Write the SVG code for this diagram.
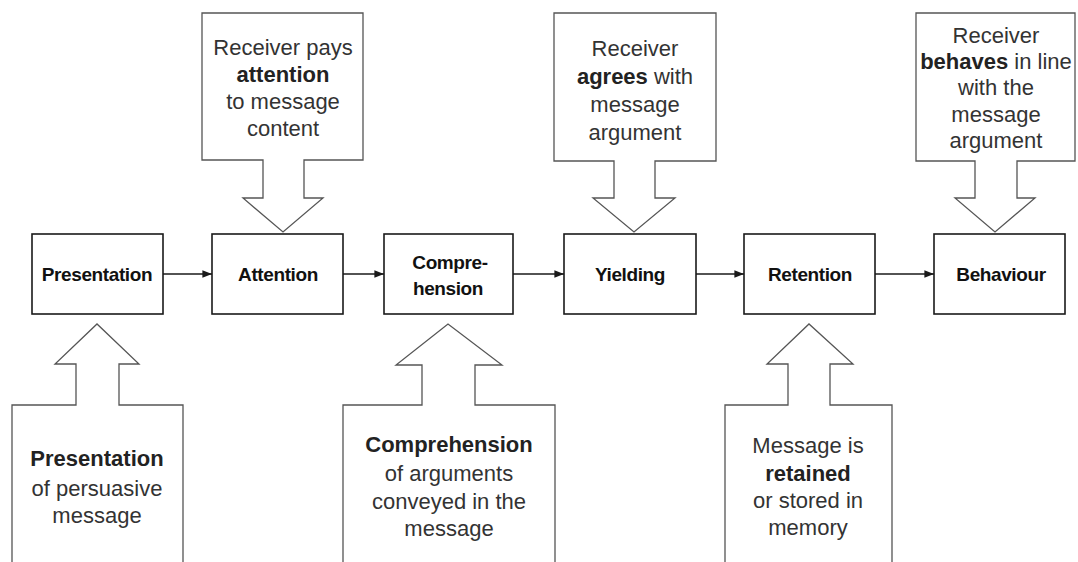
<svg xmlns="http://www.w3.org/2000/svg" width="1078" height="562" viewBox="0 0 1078 562">
  <style>
    .stage { fill: #fff; stroke: #1a1a1a; stroke-width: 1.6; }
    .stage-label { font-family: "Liberation Sans", Arial, sans-serif; font-weight: bold; font-size: 19px; fill: #111; text-anchor: middle; letter-spacing: -0.4px; }
    .callout { fill: #fff; stroke: #555; stroke-width: 1.3; stroke-linejoin: miter; }
    .note { font-family: "Liberation Sans", Arial, sans-serif; font-size: 22px; fill: #333; text-anchor: middle; }
    .note tspan.b { font-weight: bold; fill: #222; }
    .link { stroke: #1a1a1a; stroke-width: 1.6; fill: none; marker-end: url(#head); }
  </style>
  <defs>
    <marker id="head" viewBox="0 0 10 10" refX="10" refY="5" markerWidth="6" markerHeight="6" markerUnits="strokeWidth" orient="auto">
      <path d="M0,1 L10,5 L0,9 Z" fill="#1a1a1a"/>
    </marker>
  </defs>
  <rect width="1078" height="562" fill="#fff"/>

  <!-- flow between stages -->
  <g id="connectors">
    <line class="link" x1="163" y1="274" x2="212" y2="274"/>
    <line class="link" x1="343" y1="274" x2="384" y2="274"/>
    <line class="link" x1="513" y1="274" x2="564" y2="274"/>
    <line class="link" x1="696" y1="274" x2="744" y2="274"/>
    <line class="link" x1="875" y1="274" x2="934" y2="274"/>
  </g>

  <!-- stage boxes -->
  <g id="presentation">
    <rect class="stage" x="32" y="234" width="131" height="80"/>
    <text class="stage-label" x="97" y="281">Presentation</text>
  </g>
  <g id="attention">
    <rect class="stage" x="212" y="234" width="131" height="80"/>
    <text class="stage-label" x="278" y="281">Attention</text>
  </g>
  <g id="comprehension">
    <rect class="stage" x="384" y="234" width="129" height="80"/>
    <text class="stage-label" x="450" y="269">Compre-</text>
    <text class="stage-label" x="448" y="295">hension</text>
  </g>
  <g id="yielding">
    <rect class="stage" x="564" y="234" width="132" height="80"/>
    <text class="stage-label" x="630" y="281">Yielding</text>
  </g>
  <g id="retention">
    <rect class="stage" x="744" y="234" width="131" height="80"/>
    <text class="stage-label" x="810" y="281">Retention</text>
  </g>
  <g id="behaviour">
    <rect class="stage" x="934" y="234" width="131" height="80"/>
    <text class="stage-label" x="1001" y="281">Behaviour</text>
  </g>

  <!-- callouts above the stages -->
  <g id="note-attention">
    <path class="callout" d="M202,13 H363 V160 H304 V198 H323 L283,232 L243,198 H263 V160 H202 Z"/>
    <text class="note" x="283" y="55">Receiver pays</text>
    <text class="note" x="283" y="82"><tspan class="b">attention</tspan></text>
    <text class="note" x="283" y="109">to message</text>
    <text class="note" x="283" y="136">content</text>
  </g>
  <g id="note-yielding">
    <path class="callout" d="M554,13 H716 V161 H655 V198 H675 L634,232 L593,198 H614 V161 H554 Z"/>
    <text class="note" x="635" y="56">Receiver</text>
    <text class="note" x="635" y="84"><tspan class="b">agrees</tspan> with</text>
    <text class="note" x="635" y="112">message</text>
    <text class="note" x="635" y="140">argument</text>
  </g>
  <g id="note-behaviour">
    <path class="callout" d="M916,13 H1075 V161 H1017 V198 H1035 L995,232 L955,198 H975 V161 H916 Z"/>
    <text class="note" x="996" y="43">Receiver</text>
    <text class="note" x="996" y="69"><tspan class="b">behaves</tspan> in line</text>
    <text class="note" x="996" y="95">with the</text>
    <text class="note" x="996" y="122">message</text>
    <text class="note" x="996" y="148">argument</text>
  </g>

  <!-- callouts below the stages -->
  <g id="note-presentation">
    <path class="callout" d="M12,575 V405 H76 V364 H55 L97,324 L139,364 H119 V405 H183 V575"/>
    <text class="note" x="97" y="466"><tspan class="b">Presentation</tspan></text>
    <text class="note" x="97" y="496">of persuasive</text>
    <text class="note" x="97" y="523">message</text>
  </g>
  <g id="note-comprehension">
    <path class="callout" d="M343,575 V405 H422 V365 H396 L448,324 L502,365 H475 V405 H555 V575"/>
    <text class="note" x="449" y="452"><tspan class="b">Comprehension</tspan></text>
    <text class="note" x="449" y="481">of arguments</text>
    <text class="note" x="449" y="509">conveyed in the</text>
    <text class="note" x="449" y="536">message</text>
  </g>
  <g id="note-retention">
    <path class="callout" d="M725,575 V405 H788 V364 H767 L809,324 L853,364 H830 V405 H892 V575"/>
    <text class="note" x="808" y="453">Message is</text>
    <text class="note" x="808" y="481"><tspan class="b">retained</tspan></text>
    <text class="note" x="808" y="508">or stored in</text>
    <text class="note" x="808" y="535">memory</text>
  </g>
</svg>
